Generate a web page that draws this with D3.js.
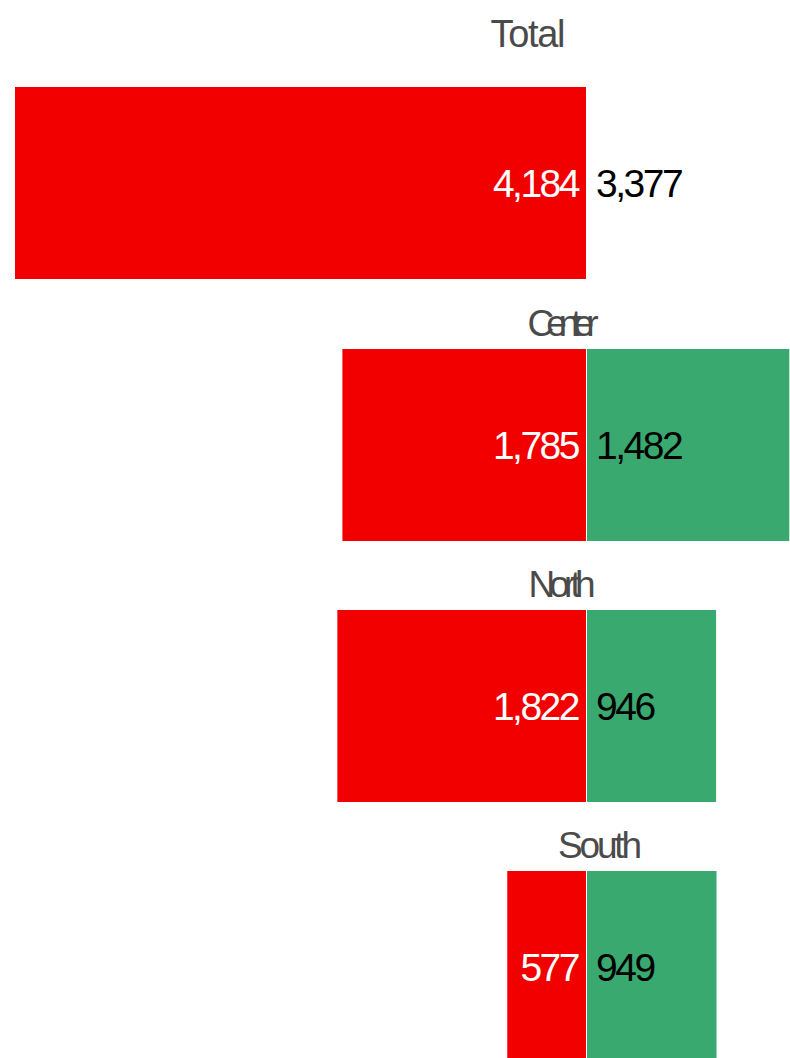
<!DOCTYPE html>
<html>
<head>
<meta charset="utf-8">
<script src="https://cdn.jsdelivr.net/npm/d3@7"></script>
<style>
  html, body { margin: 0; padding: 0; background: #fff; }
  svg { display: block; }
</style>
</head>
<body>
<div id="chart"></div>
<script>
// ---- data ----
const regions   = ["Total", "Center", "North", "South"];
const redValues = [4184, 1785, 1822, 577];
const greenValues = [3377, 1482, 946, 949];
const showGreenBar = [false, true, true, true];

// ---- layout / style ----
const W = 790, H = 1058;
const zeroX = 586;
const maxSpan = 571;
const barTops = [87, 349, 610, 871];
const barH = 192;
const titleBaselines = [47, 336, 597, 858];
const titleCenters = [528, 563, 562, 600];
const titleLengths = [75, 71, 67, 84];
const titleSizes = [38, 37, 37, 37];
const RED = "#f20000", GREEN = "#3aa970";
const FONT = "'Liberation Sans', Arial, Helvetica, sans-serif";

const svg = d3.select("#chart").append("svg").attr("width", W).attr("height", H);

const xs = d3.scaleLinear()
  .domain([-d3.max(redValues), 0, d3.max(redValues)])
  .range([zeroX - maxSpan, zeroX, zeroX + maxSpan]);

const fmt = d3.format(",");

const panels = regions.map((r, i) => ({
  name: r, red: redValues[i], green: greenValues[i], showGreen: showGreenBar[i], i
}));

const g = svg.selectAll("g.panel").data(panels).join("g").attr("class", "panel");

// titles
g.append("text")
  .attr("x", d => titleCenters[d.i])
  .attr("y", d => titleBaselines[d.i])
  .attr("text-anchor", "middle")
  .attr("textLength", d => titleLengths[d.i])
  .attr("lengthAdjust", "spacing")
  .style("font-family", FONT)
  .style("font-size", d => titleSizes[d.i] + "px")
  .style("fill", "#4a4a4a")
  .text(d => d.name);

// red bars (negative side)
g.append("rect")
  .attr("x", d => xs(-d.red))
  .attr("y", d => barTops[d.i])
  .attr("width", d => xs(0) - xs(-d.red))
  .attr("height", barH)
  .attr("fill", RED);

// green bars (positive side)
g.filter(d => d.showGreen).append("rect")
  .attr("x", d => xs(0) + 1)
  .attr("y", d => barTops[d.i])
  .attr("width", d => xs(d.green) - xs(0))
  .attr("height", barH)
  .attr("fill", GREEN);

// labels
g.append("text")
  .attr("x", xs(0) - 8)
  .attr("y", d => barTops[d.i] + barH / 2)
  .attr("dy", "0.35em")
  .attr("text-anchor", "end")
  .style("font-family", FONT)
  .style("font-size", "39px")
  .style("letter-spacing", "-2.5px")
  .style("fill", "#ffffff")
  .text(d => fmt(d.red));

g.append("text")
  .attr("x", xs(0) + 10)
  .attr("y", d => barTops[d.i] + barH / 2)
  .attr("dy", "0.35em")
  .attr("text-anchor", "start")
  .style("font-family", FONT)
  .style("font-size", "39px")
  .style("letter-spacing", "-2.5px")
  .style("fill", "#000000")
  .text(d => fmt(d.green));
</script>
</body>
</html>
